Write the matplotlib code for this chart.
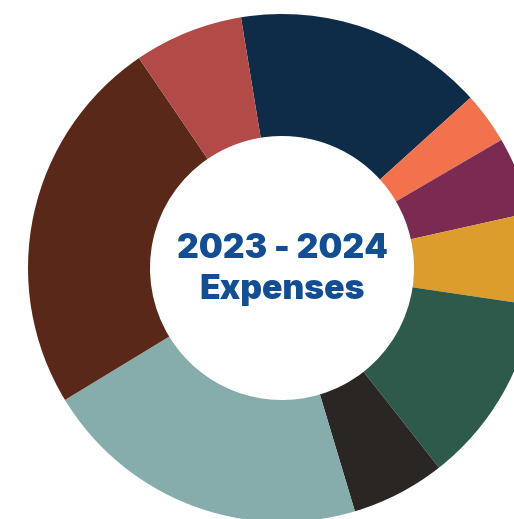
import matplotlib
matplotlib.use("Agg")
import matplotlib.pyplot as plt

categories = ["Navy", "Orange", "Purple", "Gold", "Green", "Black", "Teal", "Brown", "Red"]
values = [15.89, 3.28, 4.92, 5.83, 12.06, 5.97, 20.94, 24.17, 6.94]
colors = ["#0E2C48", "#F2724E", "#7B2B52", "#DC9D2D", "#2E5A4B",
          "#2A2623", "#86ADAC", "#5A2819", "#B24A48"]
title_lines = ["2023 - 2024", "Expenses"]

W, H = 514, 519
fig = plt.figure(figsize=(W / 100, H / 100), dpi=100)
ax = fig.add_axes([0, 0, 1, 1])
ax.set_xlim(0, W)
ax.set_ylim(0, H)
ax.set_aspect("equal")
ax.axis("off")

cx, cy, R = 282, H - 268, 254
ax.pie(values, colors=colors, startangle=99.3, counterclock=False,
       center=(cx, cy), radius=R,
       wedgeprops=dict(width=R - 132, linewidth=0))
ax.set_xlim(0, W)
ax.set_ylim(0, H)

ax.text(cx, H - 258, title_lines[0], ha="center", va="baseline",
        fontsize=24.3, fontweight=900, color="#124E91", family="Inter")
ax.text(cx, H - 299, title_lines[1], ha="center", va="baseline",
        fontsize=24.3, fontweight=900, color="#124E91", family="Inter")

fig.savefig("out.png", dpi=100)
